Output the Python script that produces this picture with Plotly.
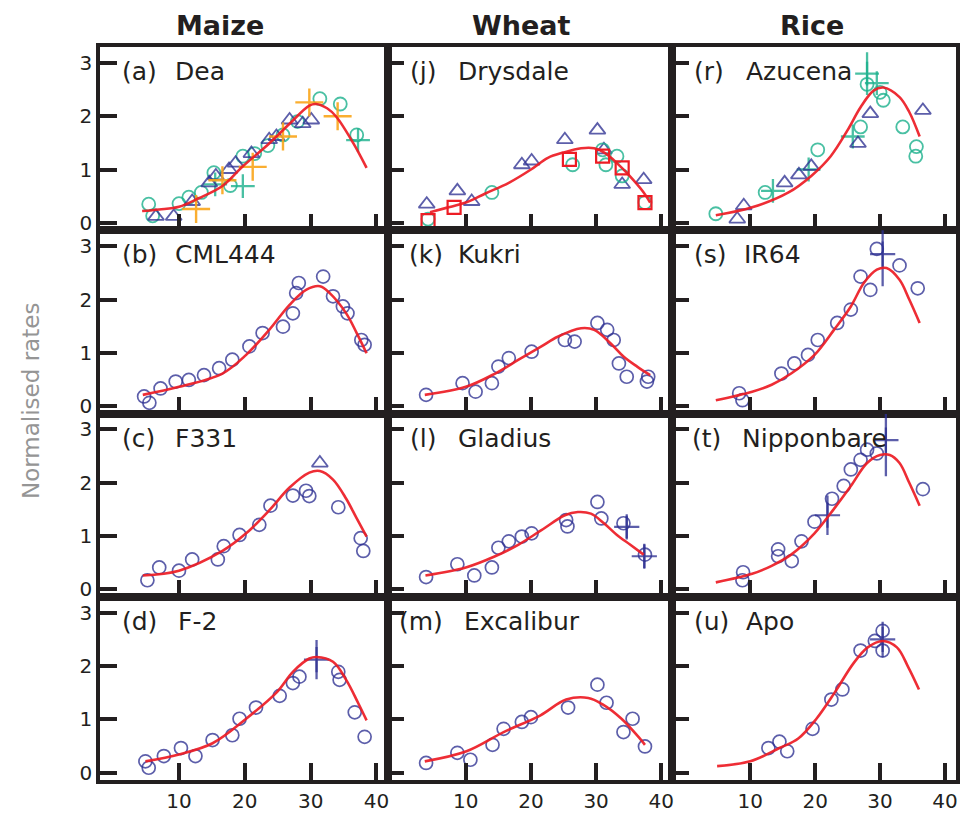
import plotly.graph_objects as go
from plotly.subplots import make_subplots

# ---------------- data ----------------
col_titles = ["Maize", "Wheat", "Rice"]
x_ticks = [10, 20, 30, 40]
y_ticks = [0, 1, 2, 3]

# Maize (a) Dea
dea_tri_x = [6.5, 9.2, 12, 14.6, 15.6, 17.6, 18.6, 21, 23.7, 24.8, 26.8, 28.8, 30.1]
dea_tri_y = [0.12, 0.12, 0.4, 0.75, 0.88, 1.0, 1.12, 1.3, 1.56, 1.62, 1.93, 1.86, 1.93]
dea_grn_x = [5.4, 6.0, 10, 11.5, 13.4, 15.3, 17.8, 19.7, 21.5, 23.5, 25.8, 28, 31.4, 34.5, 37.0]
dea_grn_y = [0.35, 0.13, 0.36, 0.48, 0.57, 0.94, 0.7, 1.25, 1.3, 1.45, 1.65, 1.9, 2.33, 2.23, 1.65]
dea_gpl_x = [15.5, 19.7, 37.2]
dea_gpl_y = [0.72, 0.69, 1.55]
dea_org_x = [12.6, 16.6, 21.2, 25.8, 29.8, 34.1]
dea_org_y = [0.26, 0.8, 1.05, 1.62, 2.26, 2.0]
dea_fit_x = [4.4, 7, 10, 13, 16.6, 19.7, 23.7, 26.8, 29.8, 30.8, 32.5, 33.9, 36.5, 38.5]
dea_fit_y = [0.22, 0.25, 0.3, 0.46, 0.69, 1.06, 1.49, 1.86, 2.2, 2.23, 2.15, 1.99, 1.49, 1.03]

# Maize (b) CML444
cml_x = [4.7, 5.5, 7.2, 9.5, 11.5, 13.8, 16.1, 18.1, 20.7, 22.7, 25.8, 27.3, 27.8, 28.2, 31.9, 33.4, 34.9, 35.6, 37.7, 38.2]
cml_y = [0.18, 0.06, 0.33, 0.46, 0.49, 0.58, 0.71, 0.87, 1.12, 1.37, 1.49, 1.74, 2.12, 2.31, 2.43, 2.06, 1.87, 1.74, 1.24, 1.15]
cml_fit_x = [4.5, 10, 16.6, 20.2, 23.7, 26.8, 29.3, 31.4, 32.9, 35.4, 37, 38.5]
cml_fit_y = [0.21, 0.36, 0.61, 0.96, 1.43, 1.9, 2.18, 2.25, 2.12, 1.74, 1.37, 0.99]

# Maize (c) F331
f331_x = [5.2, 7.0, 10, 12.0, 15.9, 16.8, 19.2, 22.2, 23.9, 27.3, 29.3, 29.8, 34.2, 37.6, 38.0]
f331_y = [0.17, 0.41, 0.35, 0.56, 0.56, 0.81, 1.02, 1.21, 1.57, 1.76, 1.85, 1.75, 1.54, 0.96, 0.72]
f331_tri_x = [31.4]
f331_tri_y = [2.37]
f331_fit_x = [4.5, 10, 16.6, 20.2, 23.7, 26.8, 29.8, 31.4, 33.4, 35.4, 37, 38.5]
f331_fit_y = [0.26, 0.35, 0.72, 1.05, 1.48, 1.91, 2.19, 2.22, 2.06, 1.7, 1.33, 0.99]

# Maize (d) F-2
f2_x = [4.9, 5.4, 7.7, 10.3, 12.5, 15.1, 18.1, 19.2, 21.7, 25.3, 27.3, 28.3, 34.2, 34.4, 36.7, 38.2]
f2_y = [0.21, 0.09, 0.31, 0.46, 0.31, 0.61, 0.70, 1.01, 1.22, 1.44, 1.68, 1.8, 1.89, 1.74, 1.13, 0.67]
f2_err_x = [30.9]
f2_err_y = [2.12]
f2_err_e = [0.37]
f2_fit_x = [4.9, 10, 15.1, 20.2, 24.8, 27.3, 29.8, 30.9, 33.4, 35.4, 37.2, 38.5]
f2_fit_y = [0.21, 0.34, 0.55, 1.01, 1.5, 1.89, 2.14, 2.17, 2.08, 1.74, 1.31, 0.98]

# Wheat (j) Drysdale
dry_sq_x = [4.2, 8.2, 25.9, 31.0, 34.0, 37.5]
dry_sq_y = [0.04, 0.29, 1.19, 1.25, 1.03, 0.38]
dry_tri_x = [4.0, 8.7, 10.9, 18.6, 20.1, 25.2, 30.2, 31.2, 34.0, 37.3]
dry_tri_y = [0.35, 0.6, 0.4, 1.09, 1.16, 1.56, 1.74, 1.37, 0.72, 0.81]
dry_grn_x = [4.2, 14.0, 26.4, 31.0, 31.5, 33.2, 34.0, 37.5]
dry_grn_y = [0.07, 0.57, 1.09, 1.37, 1.09, 1.25, 0.88, 0.38]
dry_fit_x = [4.5, 7, 10, 13, 16.6, 20, 22.6, 25, 27.7, 29.7, 31.5, 33.2, 35, 37.3, 38.3]
dry_fit_y = [0.2, 0.28, 0.38, 0.55, 0.75, 1.0, 1.22, 1.32, 1.40, 1.40, 1.3, 1.12, 0.9, 0.57, 0.38]

# Wheat (k) Kukri
kuk_x = [3.9, 9.5, 11.5, 14.0, 15.0, 16.6, 20.1, 25.2, 26.7, 30.2, 31.7, 32.7, 33.5, 34.7, 37.8, 38.0]
kuk_y = [0.21, 0.43, 0.27, 0.43, 0.74, 0.90, 1.02, 1.24, 1.21, 1.56, 1.43, 1.24, 0.80, 0.55, 0.46, 0.55]
kuk_fit_x = [3.7, 10, 14.5, 18.1, 21.6, 24.1, 27.7, 29.7, 32.2, 34.2, 36.3, 38.3]
kuk_fit_y = [0.21, 0.36, 0.61, 0.87, 1.12, 1.3, 1.46, 1.43, 1.18, 0.93, 0.74, 0.58]

# Wheat (l) Gladius
gla_x = [3.9, 8.7, 11.3, 14.0, 15.0, 16.6, 18.6, 20.1, 25.4, 25.6, 30.2, 30.8, 34.2, 37.5]
gla_y = [0.23, 0.47, 0.26, 0.41, 0.78, 0.9, 0.99, 1.05, 1.30, 1.18, 1.64, 1.33, 1.24, 0.65]
gla_err_x = [34.7, 37.4]
gla_err_y = [1.17, 0.62]
gla_err_e = [0.21, 0.22]
gla_fit_x = [3.8, 10, 14.5, 18.1, 21.6, 25.2, 27.2, 29.2, 31.2, 33.2, 35.2, 37.3]
gla_fit_y = [0.26, 0.41, 0.62, 0.84, 1.11, 1.39, 1.45, 1.42, 1.24, 1.02, 0.84, 0.65]

# Wheat (m) Excalibur
exc_x = [3.9, 8.7, 10.7, 14.1, 15.8, 18.6, 20.0, 25.7, 30.2, 31.6, 35.6, 34.2, 37.5]
exc_y = [0.18, 0.37, 0.24, 0.52, 0.82, 0.95, 1.04, 1.22, 1.65, 1.31, 1.01, 0.76, 0.49]
exc_fit_x = [3.7, 10.1, 15.8, 21.4, 25.4, 28.8, 31.0, 33.9, 36.7, 37.5]
exc_fit_y = [0.21, 0.4, 0.76, 1.07, 1.37, 1.4, 1.28, 1.01, 0.64, 0.52]

# Rice (r) Azucena
azu_grn_x = [4.7, 12.3, 20.4, 27.0, 28.0, 30.0, 30.5, 33.5, 35.6, 35.5]
azu_grn_y = [0.17, 0.57, 1.37, 1.8, 2.6, 2.45, 2.3, 1.8, 1.43, 1.25]
azu_gpl_x = [13.5, 19.0, 25.8, 29.5]
azu_gpl_y = [0.6, 1.0, 1.62, 2.62]
azu_gerr_x = [28.0]
azu_gerr_y = [2.8]
azu_gerr_e = [0.4]
azu_tri_x = [8.0, 9.0, 15.3, 17.5, 19.4, 26.6, 28.5, 36.6]
azu_tri_y = [0.07, 0.32, 0.75, 0.9, 1.06, 1.49, 2.05, 2.11]
azu_fit_x = [4.7, 10.3, 15.9, 19.4, 22.4, 25.0, 27.0, 29.0, 30.5, 33.0, 34.5, 36.1]
azu_fit_y = [0.14, 0.29, 0.57, 0.88, 1.25, 1.74, 2.17, 2.48, 2.54, 2.36, 2.08, 1.62]

# Rice (s) IR64
ir_x = [8.3, 8.8, 14.8, 16.8, 18.9, 20.4, 23.4, 25.5, 27.0, 28.5, 29.5, 33.0, 35.8]
ir_y = [0.24, 0.11, 0.61, 0.8, 0.96, 1.24, 1.56, 1.81, 2.43, 2.18, 2.95, 2.64, 2.21]
ir_err_x = [30.4]
ir_err_y = [2.85]
ir_err_e = [0.6]
ir_fit_x = [4.7, 10.3, 13.3, 16.3, 19.9, 22.9, 25.5, 27.5, 29.5, 31.0, 33.0, 34.5, 36.1]
ir_fit_y = [0.11, 0.27, 0.4, 0.61, 0.96, 1.43, 1.87, 2.31, 2.56, 2.59, 2.37, 2.0, 1.56]

# Rice (t) Nipponbare
nip_x = [8.8, 8.9, 14.3, 14.3, 16.4, 17.9, 19.9, 22.6, 24.4, 25.5, 27.0, 28.0, 29.5, 36.6]
nip_y = [0.17, 0.32, 0.75, 0.62, 0.53, 0.9, 1.27, 1.7, 1.94, 2.25, 2.43, 2.62, 2.55, 1.88]
nip_err_x = [30.9, 21.9]
nip_err_y = [2.8, 1.39]
nip_err_e = [0.68, 0.37]
nip_fit_x = [4.7, 10.3, 13.3, 16.3, 19.9, 22.9, 25.5, 28.0, 30.0, 31.5, 33.0, 34.5, 36.1]
nip_fit_y = [0.13, 0.29, 0.44, 0.65, 1.05, 1.51, 1.94, 2.37, 2.52, 2.52, 2.37, 2.0, 1.57]

# Rice (u) Apo
apo_x = [12.8, 14.5, 15.7, 19.6, 22.5, 24.2, 27.0, 29.2, 30.4, 30.4]
apo_y = [0.46, 0.58, 0.40, 0.82, 1.37, 1.56, 2.29, 2.47, 2.66, 2.29]
apo_err_x = [30.4]
apo_err_y = [2.5]
apo_err_e = [0.33]
apo_fit_x = [4.9, 10.0, 14.5, 17.4, 20.2, 23.0, 25.9, 28.1, 30.4, 32.6, 34.3, 36.0]
apo_fit_y = [0.12, 0.21, 0.46, 0.64, 1.01, 1.5, 2.05, 2.35, 2.47, 2.35, 1.99, 1.56]

# ---------------- styles ----------------
NAVY = "rgba(46,49,146,0.78)"
GREEN = "rgba(27,176,140,0.8)"
ORANGE = "rgba(249,165,26,0.9)"
RED = "#ED1C24"
INK = "#231F20"
FONT = "DejaVu Sans"

STYLES = {
    "circle": dict(symbol="circle-open", size=13, color=NAVY, line=dict(width=1.7, color=NAVY)),
    "tri": dict(symbol="triangle-up-open", size=14, color=NAVY, line=dict(width=1.8, color=NAVY)),
    "square": dict(symbol="square-open", size=13, color=RED, line=dict(width=2.2, color=RED)),
    "gcircle": dict(symbol="circle-open", size=13, color=GREEN, line=dict(width=1.8, color=GREEN)),
    "gplus": dict(symbol="cross-thin-open", size=17, color=GREEN, line=dict(width=2.3, color=GREEN)),
    "oplus": dict(symbol="cross-thin-open", size=20, color=ORANGE, line=dict(width=2.4, color=ORANGE)),
    "bplus": dict(symbol="cross-thin-open", size=18, color=NAVY, line=dict(width=2.2, color=NAVY)),
}

# panel: (row, col, letter, name, [point sets], [error sets], fit, label offsets)
panels = [
    (1, 1, "(a)", "Dea", [("gcircle", dea_grn_x, dea_grn_y), ("gplus", dea_gpl_x, dea_gpl_y),
                          ("tri", dea_tri_x, dea_tri_y), ("oplus", dea_org_x, dea_org_y)], [], (dea_fit_x, dea_fit_y), (20, 73)),
    (2, 1, "(b)", "CML444", [("circle", cml_x, cml_y)], [], (cml_fit_x, cml_fit_y), (20, 73)),
    (3, 1, "(c)", "F331", [("circle", f331_x, f331_y), ("tri", f331_tri_x, f331_tri_y)], [], (f331_fit_x, f331_fit_y), (20, 73)),
    (4, 1, "(d)", "F-2", [("circle", f2_x, f2_y)], [("bplus", f2_err_x, f2_err_y, f2_err_e)], (f2_fit_x, f2_fit_y), (20, 76)),
    (1, 2, "(j)", "Drysdale", [("tri", dry_tri_x, dry_tri_y), ("gcircle", dry_grn_x, dry_grn_y),
                               ("square", dry_sq_x, dry_sq_y)], [], (dry_fit_x, dry_fit_y), (20, 69)),
    (2, 2, "(k)", "Kukri", [("circle", kuk_x, kuk_y)], [], (kuk_fit_x, kuk_fit_y), (19, 69)),
    (3, 2, "(l)", "Gladius", [("circle", gla_x, gla_y)], [("bplus", gla_err_x, gla_err_y, gla_err_e)], (gla_fit_x, gla_fit_y), (20, 69)),
    (4, 2, "(m)", "Excalibur", [("circle", exc_x, exc_y)], [], (exc_fit_x, exc_fit_y), (9, 75)),
    (1, 3, "(r)", "Azucena", [("gcircle", azu_grn_x, azu_grn_y), ("gplus", azu_gpl_x, azu_gpl_y),
                              ("tri", azu_tri_x, azu_tri_y)], [("gplus", azu_gerr_x, azu_gerr_y, azu_gerr_e)], (azu_fit_x, azu_fit_y), (20, 72)),
    (2, 3, "(s)", "IR64", [("circle", ir_x, ir_y)], [("bplus", ir_err_x, ir_err_y, ir_err_e)], (ir_fit_x, ir_fit_y), (20, 70)),
    (3, 3, "(t)", "Nipponbare", [("circle", nip_x, nip_y)], [("bplus", nip_err_x, nip_err_y, nip_err_e)], (nip_fit_x, nip_fit_y), (18, 68)),
    (4, 3, "(u)", "Apo", [("circle", apo_x, apo_y)], [("bplus", apo_err_x, apo_err_y, apo_err_e)], (apo_fit_x, apo_fit_y), (20, 72)),
]

W, H = 965, 818
ML, MR, MT, MB = 100, 5, 47, 29
col_w = [289, 286, 285]
title_cx = [221, 523, 815]

fig = make_subplots(rows=4, cols=3, horizontal_spacing=0, vertical_spacing=0,
                    column_widths=col_w)

for row, col, letter, name, sets, errs, fit, offs in panels:
    for kind, xs, ys in sets:
        st = STYLES[kind]
        fig.add_trace(go.Scatter(x=xs, y=ys, mode="markers", showlegend=False,
                                 marker=dict(symbol=st["symbol"], size=st["size"], color=st["color"], line=st["line"]),
                                 cliponaxis=False, hoverinfo="skip"), row=row, col=col)
    for kind, xs, ys, es in errs:
        st = STYLES[kind]
        fig.add_trace(go.Scatter(x=xs, y=ys, mode="markers", showlegend=False,
                                 marker=dict(symbol=st["symbol"], size=st["size"], color=st["color"], line=st["line"]),
                                 error_y=dict(type="data", array=es, visible=True, color=st["color"],
                                              thickness=2.3, width=0),
                                 cliponaxis=False, hoverinfo="skip"), row=row, col=col)
    fig.add_trace(go.Scatter(x=fit[0], y=fit[1], mode="lines", showlegend=False,
                             line=dict(color=RED, width=2.6, shape="spline", smoothing=1.0),
                             opacity=0.92, hoverinfo="skip"), row=row, col=col)

for r in range(1, 5):
    for c in range(1, 4):
        fig.update_xaxes(range=[-2, 41.7], tickvals=x_ticks, ticks="inside", ticklen=17, tickwidth=3.5,
                         tickcolor=INK, showline=True, mirror=True, linecolor=INK, linewidth=3.5,
                         showgrid=False, zeroline=False, showticklabels=(r == 4),
                         tickfont=dict(family=FONT, size=20, color=INK), row=r, col=c)
        fig.update_yaxes(range=[-0.14, 3.3], tickvals=y_ticks, ticks="inside", ticklen=17, tickwidth=3.5,
                         tickcolor=INK, showline=True, mirror=True, linecolor=INK, linewidth=3.5,
                         showgrid=False, zeroline=False, showticklabels=(c == 1),
                         tickfont=dict(family=FONT, size=20, color=INK), row=r, col=c)

annotations = []
plot_w = W - ML - MR
plot_h = H - MT - MB
row_h = plot_h / 4
sub_index = {}
k = 0
for r in range(1, 5):
    for c in range(1, 4):
        k += 1
        sub_index[(r, c)] = k

for row, col, letter, name, sets, errs, fit, offs in panels:
    idx = sub_index[(row, col)]
    sfx = "" if idx == 1 else str(idx)
    cw = col_w[col - 1]
    ypos = 1 - 25 / row_h
    annotations.append(dict(text=letter, xref=f"x{sfx} domain", yref=f"y{sfx} domain",
                            x=offs[0] / cw, y=ypos, xanchor="left", yanchor="middle", showarrow=False,
                            font=dict(family=FONT, size=25, color=INK)))
    annotations.append(dict(text=name, xref=f"x{sfx} domain", yref=f"y{sfx} domain",
                            x=offs[1] / cw, y=ypos, xanchor="left", yanchor="middle", showarrow=False,
                            font=dict(family=FONT, size=25, color=INK)))

# column titles
for i, t in enumerate(col_titles):
    annotations.append(dict(text=f"<b>{t}</b>", xref="paper", yref="paper",
                            x=(title_cx[i] - ML) / plot_w,
                            y=1 + (MT - 25) / plot_h, xanchor="center", yanchor="middle", showarrow=False,
                            font=dict(family=FONT, size=27, color=INK)))

annotations.append(dict(text="Normalised rates", xref="paper", yref="paper",
                        x=(30 - ML) / plot_w, y=1 - (405 - MT) / plot_h, textangle=-90,
                        xanchor="center", yanchor="middle", showarrow=False,
                        font=dict(family=FONT, size=23, color="#959595")))

fig.update_layout(width=W, height=H, margin=dict(l=ML, r=MR, t=MT, b=MB),
                  paper_bgcolor="white", plot_bgcolor="white", annotations=annotations)

fig.write_html("out.html")
